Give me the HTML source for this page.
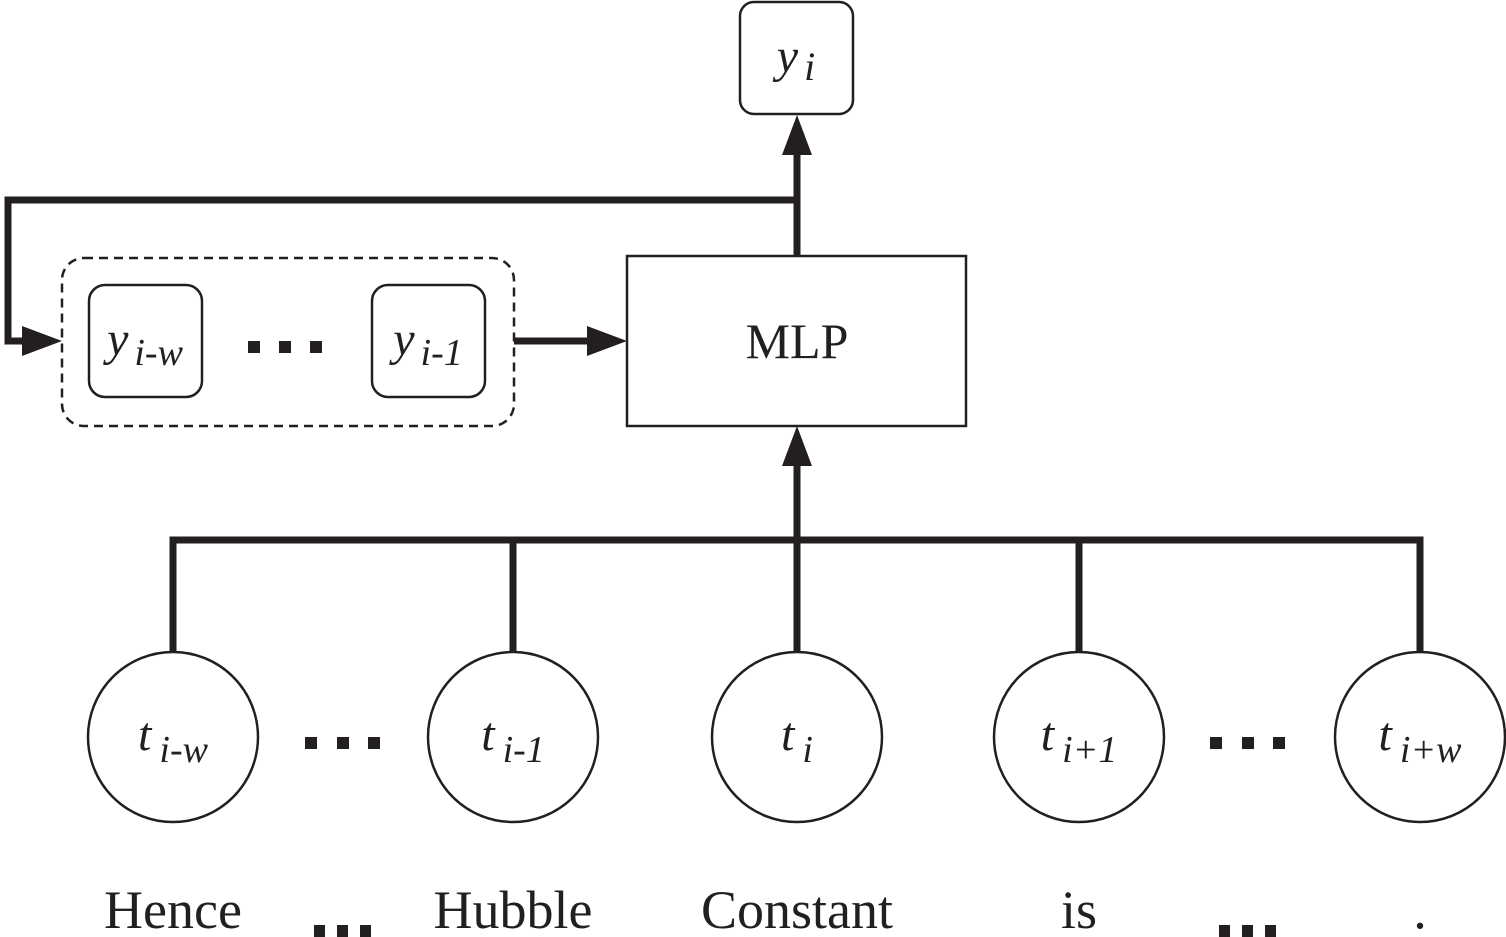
<!DOCTYPE html>
<html><head><meta charset="utf-8"><style>
html,body{margin:0;padding:0;background:#fff;}
svg{display:block;}
text{font-family:"Liberation Serif",serif;fill:#231f20;}
</style></head><body>
<svg width="1506" height="937" viewBox="0 0 1506 937" xmlns="http://www.w3.org/2000/svg">
<g stroke="#231f20" fill="none">
<rect x="740" y="2" width="113" height="112" rx="14" stroke-width="2.5"/>
<rect x="62" y="258" width="452" height="168" rx="22" stroke-width="2.5" stroke-dasharray="9,6"/>
<rect x="89" y="285" width="113" height="112" rx="16" stroke-width="2.5"/>
<rect x="372" y="285" width="113" height="112" rx="16" stroke-width="2.5"/>
<rect x="627" y="256" width="339" height="170" stroke-width="2.5"/>
<path d="M797 255 V150 M797 200 H8 V341 H30 M514 341 H600 M797 540 V460 M173 652 V540 H1420 V652 M513 540 V652 M797 540 V652 M1079 540 V652" stroke-width="7"/>
<circle cx="173" cy="737" r="85" stroke-width="2.5"/>
<circle cx="513" cy="737" r="85" stroke-width="2.5"/>
<circle cx="797" cy="737" r="85" stroke-width="2.5"/>
<circle cx="1079" cy="737" r="85" stroke-width="2.5"/>
<circle cx="1420" cy="737" r="85" stroke-width="2.5"/>
</g>
<g fill="#231f20">
<polygon points="797,115 782,155 812,155"/>
<polygon points="62,341 22,326 22,356"/>
<polygon points="627,341 587,326 587,356"/>
<polygon points="797,426 782,466 812,466"/>
<rect x="248" y="341" width="12" height="12"/><rect x="279" y="341" width="12" height="12"/><rect x="310" y="341" width="12" height="12"/>
<rect x="305" y="737" width="12" height="12"/><rect x="337" y="737" width="12" height="12"/><rect x="368" y="737" width="12" height="12"/>
<rect x="1210" y="737" width="12" height="12"/><rect x="1242" y="737" width="12" height="12"/><rect x="1273" y="737" width="12" height="12"/>
</g>
<g font-style="italic">
<text x="796" y="72" font-size="48" text-anchor="middle">y<tspan font-size="40" dx="6" dy="8">i</tspan></text>
<text x="145" y="355" font-size="48" text-anchor="middle">y<tspan font-size="38" dx="6" dy="10">i-w</tspan></text>
<text x="428" y="355" font-size="48" text-anchor="middle">y<tspan font-size="38" dx="6" dy="10">i-1</tspan></text>
<text x="173" y="750" font-size="48" text-anchor="middle">t<tspan font-size="38" dx="8" dy="12">i-w</tspan></text>
<text x="513" y="750" font-size="48" text-anchor="middle">t<tspan font-size="38" dx="8" dy="12">i-1</tspan></text>
<text x="797" y="750" font-size="48" text-anchor="middle">t<tspan font-size="38" dx="8" dy="12">i</tspan></text>
<text x="1079" y="750" font-size="48" text-anchor="middle">t<tspan font-size="38" dx="8" dy="12">i+1</tspan></text>
<text x="1420" y="750" font-size="48" text-anchor="middle">t<tspan font-size="38" dx="8" dy="12">i+w</tspan></text>
</g>
<text x="797" y="358" font-size="50" text-anchor="middle">MLP</text>
<g font-size="54" text-anchor="middle">
<text x="173" y="928">Hence</text>
<text x="513" y="928">Hubble</text>
<text x="797" y="928">Constant</text>
<text x="1079" y="928">is</text>
<text x="1420" y="928">.</text>
</g>
<g fill="#231f20">
<rect x="314" y="925" width="11" height="12"/><rect x="337" y="925" width="11" height="12"/><rect x="360" y="925" width="11" height="12"/>
<rect x="1219" y="925" width="11" height="12"/><rect x="1242" y="925" width="11" height="12"/><rect x="1265" y="925" width="11" height="12"/>
</g>
</svg>
</body></html>
